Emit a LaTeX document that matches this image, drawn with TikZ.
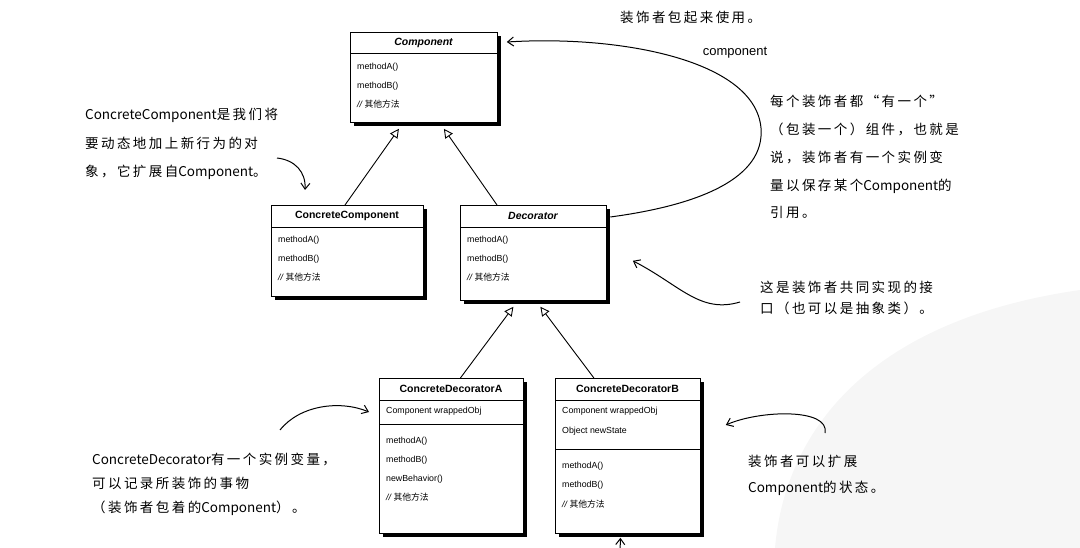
\documentclass[tikz,border=0pt]{standalone}
\usepackage{fontspec}
\setmainfont{Liberation Sans}
\newfontfamily\cjk{Noto Sans CJK SC}
\newfontfamily\hand[LetterSpace=18]{Noto Sans CJK SC}
\newfontfamily\handlat{Noto Sans CJK SC}
\usetikzlibrary{arrows.meta,shadows,calc}
\tikzset{
  umlbox/.style={draw, fill=white, line width=0.8pt, inner sep=0pt, anchor=north west,
    drop shadow={shadow xshift=3.4pt, shadow yshift=-3.4pt, fill=black, opacity=1}},
  umltitle/.style={font=\fontsize{10.5}{12}\selectfont\bfseries, inner sep=0pt},
  umlitem/.style={font=\fontsize{8.8}{10}\selectfont, inner sep=0pt, anchor=west},
  divider/.style={line width=0.7pt},
  inherit/.style={line width=0.9pt, -{Triangle[open, length=9pt, width=9pt]}},
  note/.style={inner sep=0pt, anchor=north west, align=left},
  notearrow/.style={line width=1pt, -{Straight Barb[length=6pt, width=9pt]}},
}
\newcommand{\other}{{\itshape //} {\cjk 其他方法}}
\begin{document}
\begin{tikzpicture}[x=1pt, y=-1pt]
\useasboundingbox (0,0) rectangle (1080,548);
% faint watermark area
\fill[gray!7] (775,548) .. controls (785,430) and (870,320) .. (1080,290) -- (1080,548) -- cycle;

% ---------- boxes ----------
\node[umlbox, minimum width=147pt, minimum height=90pt] (comp) at (350,32) {};
\node[umlbox, minimum width=152pt, minimum height=91pt] (cc) at (271,205) {};
\node[umlbox, minimum width=146pt, minimum height=95pt] (dec) at (460,205) {};
\node[umlbox, minimum width=144pt, minimum height=155pt] (cda) at (379,378) {};
\node[umlbox, minimum width=145pt, minimum height=155pt] (cdb) at (555,378) {};

% Component
\node[umltitle] (compT) at (423.5,43) {\itshape Component};
\draw[divider] (350,53) -- (497,53);
\node[umlitem] (compA) at (357,67) {methodA()};
\node[umlitem] (compB) at (357,86) {methodB()};
\node[umlitem] (compO) at (357,104) {\other};

% ConcreteComponent
\node[umltitle] (ccT) at (347,216) {ConcreteComponent};
\draw[divider] (271,227) -- (423,227);
\node[umlitem] (ccA) at (278,240) {methodA()};
\node[umlitem] (ccB) at (278,259) {methodB()};
\node[umlitem] (ccO) at (278,277) {\other};

% Decorator
\node[umltitle] (decT) at (533,216) {\itshape Decorator};
\draw[divider] (460,227) -- (606,227);
\node[umlitem] (decA) at (467,240) {methodA()};
\node[umlitem] (decB) at (467,259) {methodB()};
\node[umlitem] (decO) at (467,277) {\other};

% ConcreteDecoratorA
\node[umltitle] (cdaT) at (451,389) {ConcreteDecoratorA};
\draw[divider] (379,400) -- (523,400);
\node[umlitem] (cdaW) at (386,411) {Component wrappedObj};
\draw[divider] (379,424) -- (523,424);
\node[umlitem] (cdaA) at (386,441) {methodA()};
\node[umlitem] (cdaB) at (386,460) {methodB()};
\node[umlitem] (cdaN) at (386,479) {newBehavior()};
\node[umlitem] (cdaO) at (386,497) {\other};

% ConcreteDecoratorB
\node[umltitle] (cdbT) at (627.5,389) {ConcreteDecoratorB};
\draw[divider] (555,400) -- (700,400);
\node[umlitem] (cdbW) at (562,411) {Component wrappedObj};
\node[umlitem] (cdbS) at (562,431) {Object newState};
\draw[divider] (555,449) -- (700,449);
\node[umlitem] (cdbA) at (562,466) {methodA()};
\node[umlitem] (cdbB) at (562,485) {methodB()};
\node[umlitem] (cdbO) at (562,504) {\other};

% ---------- inheritance ----------
\draw[inherit] ($(cc.north west)+(74,0)$) -- ($(comp.south)+(-25,6)$);
\draw[inherit] ($(dec.north west)+(37,0)$) -- ($(comp.south)+(20,6)$);
\draw[inherit] ($(cda.north)+(9,0)$) -- ($(dec.south)+(-20,6)$);
\draw[inherit] ($(cdb.north)+(-34,0)$) -- ($(dec.south)+(7,6)$);

% ---------- component association ----------
\draw[notearrow] ($(dec.north east)+(3.5,12)$) .. controls (700,205) and (765,178) .. (761,128)
   .. controls (755,60) and (620,35) .. ($(comp.north east)+(9,10)$);
\node[inner sep=0pt, font=\fontsize{13}{15}\selectfont] (lblcomp) at (735,53) {component};

% ---------- notes ----------
\node[note, font=\hand\fontsize{13.5}{28}\selectfont] (ntop) at (620,11) {装饰者包起来使用。};

\node[note, font=\hand\fontsize{13.5}{27.8}\selectfont] (nright) at (770,95)
 {每个装饰者都“有一个”\\（包装一个）组件，也就是\\说，装饰者有一个实例变\\量以保存某个{\handlat Component}的\\引用。};

\node[note, font=\hand\fontsize{13.5}{28.5}\selectfont] (nleft) at (85,108)
 {{\handlat ConcreteComponent}是我们将\\要动态地加上新行为的对\\象，它扩展自{\handlat Component}。};
\coordinate (nleftS) at (277,158);
\draw[notearrow] (nleftS) .. controls (295,160) and (306,172) .. ($(cc.north west)+(34,-15)$);

\node[note, font=\hand\fontsize{13.5}{21}\selectfont] (nint) at (760,281)
 {这是装饰者共同实现的接\\口（也可以是抽象类）。};
\coordinate (nintS) at (740,302);
\draw[notearrow] (nintS) .. controls (700,314) and (680,285) .. ($(dec.south east)+(26,-40)$);

\node[note, font=\hand\fontsize{13.5}{24}\selectfont] (ncd) at (92,453)
 {{\handlat ConcreteDecorator}有一个实例变量，\\可以记录所装饰的事物\\（装饰者包着的{\handlat Component}）。};
\coordinate (ncdS) at (280,430);
\draw[notearrow] (ncdS) .. controls (300,405) and (340,400) .. ($(cda.north west)+(-10,34)$);

\node[note, font=\hand\fontsize{13.5}{26}\selectfont] (nstate) at (748,455)
 {装饰者可以扩展\\{\handlat Component}的状态。};
\coordinate (nstateS) at (825,433);
\draw[notearrow] (nstateS) .. controls (830,408) and (760,410) .. ($(cdb.north east)+(25,47)$);

% bottom incoming arrow
\coordinate (bottomS) at (620,556);
\draw[notearrow] (bottomS) -- ($(cdb.south)+(-7.5,4)$);
\end{tikzpicture}
\end{document}
